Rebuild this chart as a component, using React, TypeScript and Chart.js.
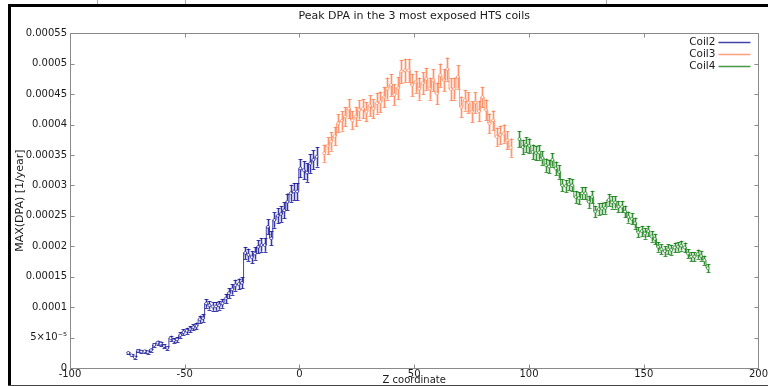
import React, { useEffect, useRef } from "react";
import { Chart, registerables } from "chart.js";

Chart.register(...registerables);

// ---- data (values in units of 1e-5 DPA/year) ----
const coil2Values = [2.5, 2.1, 1.76, 2.8, 2.7, 2.75, 2.6, 2.95, 3.8, 4.15, 4.0, 3.6, 3.3, 4.9, 4.5, 4.7, 5.4, 5.9, 6.1, 6.4, 6.7, 6.9, 8.0, 8.2, 10.6, 10.3, 10.1, 10.1, 10.3, 10.6, 11.4, 12.3, 12.9, 13.6, 13.8, 14.0, 18.9, 18.6, 18.2, 18.8, 19.9, 20.2, 20.2, 23.2, 21.3, 24.3, 25.0, 25.3, 25.9, 27.3, 28.7, 29.0, 29.0, 32.8, 32.5, 32.1, 33.6, 34.2, 34.7];
const coil2Errors = [0.2, 0.2, 0.2, 0.25, 0.25, 0.25, 0.25, 0.25, 0.3, 0.35, 0.35, 0.3, 0.3, 0.4, 0.4, 0.4, 0.45, 0.45, 0.5, 0.5, 0.5, 0.55, 0.6, 0.6, 0.7, 0.7, 0.7, 0.7, 0.7, 0.7, 0.75, 0.8, 0.85, 0.9, 0.9, 0.9, 1.0, 1.0, 1.0, 1.0, 1.05, 1.1, 1.1, 1.2, 1.15, 1.25, 1.25, 1.3, 1.3, 1.35, 1.4, 1.4, 1.4, 1.5, 1.5, 1.5, 1.55, 1.55, 1.6];
const coil2ZStart = -74.6;
const coil2ZStep = 1.415;

const coil3Values = [35.3, 36.5, 37.2, 38.1, 40.2, 40.6, 41.3, 42.6, 40.7, 41.3, 42.4, 42.6, 42.1, 43.1, 42.6, 43.5, 43.7, 44.5, 45.9, 46.5, 44.9, 46.0, 48.7, 48.9, 48.9, 46.5, 47.0, 45.9, 46.8, 47.5, 45.9, 47.3, 45.1, 48.1, 47.3, 49.1, 45.8, 45.9, 47.8, 42.9, 44.0, 43.6, 42.1, 43.6, 42.2, 44.5, 42.4, 40.2, 40.7, 38.0, 38.3, 38.5, 37.4, 36.2];
const coil3Errors = [1.4, 1.4, 1.5, 1.5, 1.5, 1.6, 1.6, 1.6, 1.5, 1.6, 1.6, 1.6, 1.6, 1.7, 1.6, 1.7, 1.7, 1.7, 1.8, 1.8, 1.7, 1.8, 1.9, 1.9, 1.9, 1.8, 1.8, 1.8, 1.8, 1.8, 1.8, 1.8, 1.8, 1.9, 1.8, 1.9, 1.8, 1.8, 1.9, 1.7, 1.7, 1.7, 1.7, 1.7, 1.7, 1.7, 1.7, 1.6, 1.6, 1.5, 1.5, 1.5, 1.5, 1.5];
const coil3ZStart = 10.7;
const coil3ZStep = 1.534;

const coil4Values = [37.6, 36.3, 36.7, 36.5, 35.5, 35.3, 35.4, 34.5, 33.3, 33.1, 34.2, 32.8, 32.2, 30.0, 29.9, 30.2, 30.0, 28.1, 27.9, 28.7, 28.7, 27.3, 28.1, 25.7, 26.1, 26.2, 26.3, 27.6, 27.2, 27.2, 26.5, 26.5, 25.7, 24.8, 24.5, 23.8, 22.3, 22.5, 22.1, 22.5, 21.6, 21.2, 19.9, 19.5, 19.2, 19.5, 19.4, 19.8, 19.9, 20.1, 19.8, 18.8, 18.3, 18.3, 18.7, 18.4, 17.7, 16.4];
const coil4Errors = [1.3, 1.2, 1.2, 1.2, 1.2, 1.2, 1.2, 1.1, 1.1, 1.1, 1.1, 1.1, 1.1, 1.0, 1.0, 1.0, 1.0, 1.0, 1.0, 1.0, 1.0, 1.0, 1.0, 0.95, 0.95, 0.95, 0.95, 1.0, 1.0, 1.0, 0.95, 0.95, 0.95, 0.9, 0.9, 0.9, 0.85, 0.85, 0.85, 0.85, 0.85, 0.85, 0.8, 0.8, 0.8, 0.8, 0.8, 0.8, 0.8, 0.8, 0.8, 0.75, 0.75, 0.75, 0.75, 0.75, 0.75, 0.7];
const coil4ZStart = 95.8;
const coil4ZStep = 1.44;

const seriesLabels = ["Coil2", "Coil3", "Coil4"];
const xTickLabels = ["-100", "-50", "0", "50", "100", "150", "200"];
const yTickLabels = ["0", "5×10⁻⁵", "0.0001", "0.00015", "0.0002", "0.00025", "0.0003", "0.00035", "0.0004", "0.00045", "0.0005", "0.00055"];

const VALUE_UNIT = 1e-5;
const FONT = "'DejaVu Sans', 'Liberation Sans', sans-serif";

const COLORS = ["rgba(20,20,150,0.8)", "rgba(255,127,80,0.75)", "rgba(10,120,10,0.75)"];
const BANDS = ["rgba(20,20,150,0.22)", "rgba(255,127,80,0.28)", "rgba(10,120,10,0.25)"];

const seriesDefs = [
  { values: coil2Values, errors: coil2Errors, start: coil2ZStart, step: coil2ZStep },
  { values: coil3Values, errors: coil3Errors, start: coil3ZStart, step: coil3ZStep },
  { values: coil4Values, errors: coil4Errors, start: coil4ZStart, step: coil4ZStep },
];

const errorBarPlugin = {
  id: "errorBars",
  beforeDatasetsDraw(chart: any) {
    const { ctx, scales } = chart;
    const xs = scales.x;
    const ys = scales.y;
    ctx.save();
    chart.data.datasets.forEach((ds: any, di: number) => {
      const errs = seriesDefs[di].errors;
      ds.data.forEach((p: any, i: number) => {
        const e = errs[i] * VALUE_UNIT;
        const px = Math.round(xs.getPixelForValue(p.x)) + 0.5;
        const top = ys.getPixelForValue(p.y + e);
        const bot = ys.getPixelForValue(p.y - e);
        ctx.fillStyle = BANDS[di];
        ctx.fillRect(px - 1.5, top, 3, bot - top);
        ctx.strokeStyle = COLORS[di];
        ctx.lineWidth = 1;
        ctx.beginPath();
        ctx.moveTo(px, top);
        ctx.lineTo(px, bot);
        ctx.moveTo(px - 2, Math.round(top) + 0.5);
        ctx.lineTo(px + 2, Math.round(top) + 0.5);
        ctx.moveTo(px - 2, Math.round(bot) + 0.5);
        ctx.lineTo(px + 2, Math.round(bot) + 0.5);
        ctx.stroke();
      });
    });
    ctx.restore();
  },
};

const framePlugin = {
  id: "frameTicks",
  afterDraw(chart: any) {
    const { ctx, chartArea, scales } = chart;
    const { left, right, top, bottom } = chartArea;
    ctx.save();
    ctx.strokeStyle = "#8a8a8a";
    ctx.lineWidth = 1;
    const L = Math.round(left) + 0.5;
    const R = Math.round(right) + 0.5;
    const T = Math.round(top) + 0.5;
    const B = Math.round(bottom) + 0.5;
    ctx.strokeRect(L, T, R - L, B - T);
    ctx.beginPath();
    scales.x.ticks.forEach((t: any) => {
      const px = Math.round(scales.x.getPixelForValue(t.value)) + 0.5;
      ctx.moveTo(px, B);
      ctx.lineTo(px, B - 4);
      ctx.moveTo(px, T);
      ctx.lineTo(px, T + 4);
    });
    scales.y.ticks.forEach((t: any) => {
      const py = Math.round(scales.y.getPixelForValue(t.value)) + 0.5;
      ctx.moveTo(L, py);
      ctx.lineTo(L + 4, py);
      ctx.moveTo(R, py);
      ctx.lineTo(R - 4, py);
    });
    ctx.stroke();

    // legend (inside plot, upper right)
    ctx.font = `10.5px ${FONT}`;
    ctx.textAlign = "right";
    ctx.textBaseline = "middle";
    chart.data.datasets.forEach((ds: any, i: number) => {
      const y = top + 9 + i * 12;
      ctx.fillStyle = "#1a1a1a";
      ctx.fillText(ds.label, right - 43, y);
      ctx.strokeStyle = COLORS[i];
      ctx.lineWidth = 1.5;
      ctx.beginPath();
      ctx.moveTo(right - 40, Math.round(y) + 0.5);
      ctx.lineTo(right - 8, Math.round(y) + 0.5);
      ctx.stroke();
    });
    ctx.restore();
  },
};

export default function App() {
  const canvasRef = useRef<HTMLCanvasElement | null>(null);

  useEffect(() => {
    const canvas = canvasRef.current;
    if (!canvas) return;
    Chart.defaults.font.family = FONT;

    const datasets = seriesDefs.map((s, di) => ({
      label: seriesLabels[di],
      data: s.values.map((v, i) => ({ x: s.start + i * s.step, y: v * VALUE_UNIT })),
      borderColor: COLORS[di],
      backgroundColor: COLORS[di],
      borderWidth: 1,
      stepped: "middle" as const,
      pointRadius: 1.4,
      pointBackgroundColor: "#ffffff",
      pointBorderColor: COLORS[di],
      pointBorderWidth: 0.8,
      fill: false,
    }));

    const chart = new Chart(canvas, {
      type: "line",
      data: { datasets },
      options: {
        animation: false,
        responsive: false,
        devicePixelRatio: 1,
        layout: { padding: { left: 0, right: 5, top: 0, bottom: 0 }, autoPadding: false },
        plugins: {
          legend: { display: false },
          tooltip: { enabled: false },
          title: {
            display: true,
            text: "Peak DPA in the 3 most exposed HTS coils",
            color: "#1a1a1a",
            font: { family: FONT, size: 11, weight: "normal" },
            padding: { top: 10, bottom: 10 },
            fullSize: false,
          },
        },
        scales: {
          x: {
            type: "linear",
            min: -100,
            max: 200,
            grid: { display: false, drawTicks: false },
            border: { display: false },
            ticks: {
              stepSize: 50,
              padding: 0,
              color: "#1a1a1a",
              maxRotation: 0,
              font: { family: FONT, size: 10 },
              callback: (value: any) => xTickLabels[Math.round((Number(value) + 100) / 50)] ?? "",
            },
            title: {
              display: true,
              text: "Z coordinate",
              color: "#1a1a1a",
              font: { family: FONT, size: 10 },
              padding: { top: 0, bottom: 0 },
            },
            afterFit: (s: any) => {
              s.height = 18;
            },
          },
          y: {
            type: "linear",
            min: 0,
            max: 0.00055,
            grid: { display: false, drawTicks: false },
            border: { display: false },
            ticks: {
              stepSize: 0.00005,
              padding: 3,
              color: "#1a1a1a",
              font: { family: FONT, size: 10 },
              callback: (value: any) => yTickLabels[Math.round(Number(value) / 0.00005)] ?? "",
            },
            title: {
              display: true,
              text: "MAX(DPA) [1/year]",
              color: "#1a1a1a",
              font: { family: FONT, size: 11 },
              padding: { top: 14, bottom: 0 },
            },
            afterFit: (s: any) => {
              s.width = 70;
            },
          },
        },
      },
      plugins: [errorBarPlugin, framePlugin],
    } as any);

    return () => chart.destroy();
  }, []);

  const thin = (left: number) => (
    <div style={{ position: "absolute", left, top: 0, width: 1, height: 4, background: "#aaa" }} />
  );

  return (
    <div style={{ position: "fixed", left: 0, top: 0, width: 768, height: 386, background: "#fff", overflow: "hidden" }}>
      <canvas ref={canvasRef} width={768} height={386} style={{ position: "absolute", left: 0, top: 0, width: 768, height: 386 }} />
      {thin(97)}
      {thin(185)}
      {thin(606)}
      <div style={{ position: "absolute", left: 8, top: 4, width: 760, height: 3, background: "#000" }} />
      <div style={{ position: "absolute", left: 8, top: 4, width: 3, height: 382, background: "#000" }} />
      <div style={{ position: "absolute", left: 8, top: 385, width: 760, height: 1, background: "#444" }} />
    </div>
  );
}
